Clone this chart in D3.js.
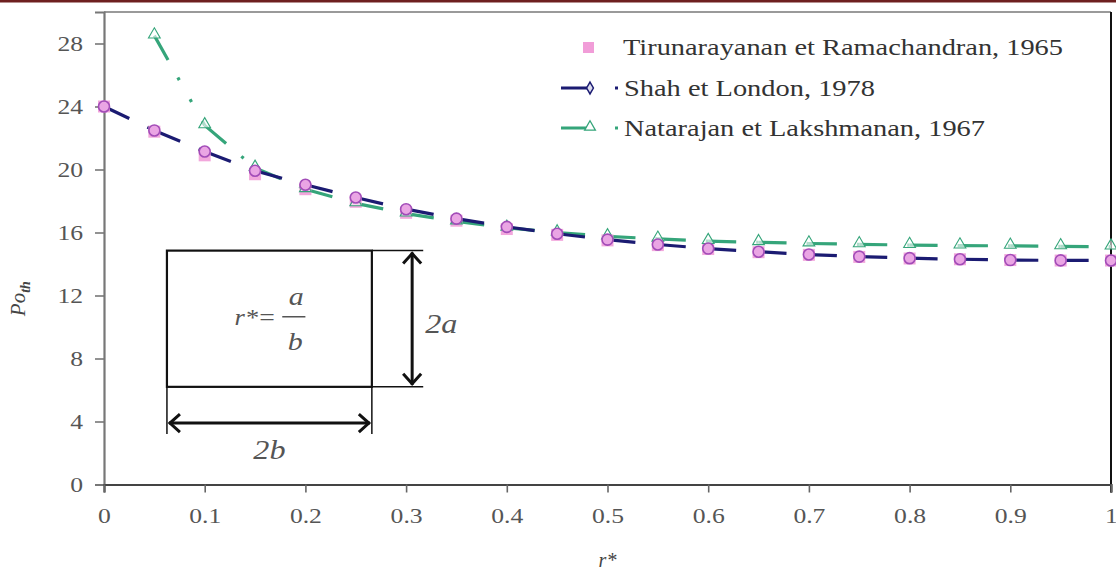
<!DOCTYPE html>
<html>
<head>
<meta charset="utf-8">
<script src="https://cdn.jsdelivr.net/npm/d3@7"></script>
<style>
  body { margin: 0; background: #fff; }
  svg text { font-family: "Liberation Serif", "Times New Roman", serif; }
</style>
</head>
<body>
<svg id="chart" width="1116" height="573"></svg>
<script>
// Aspect ratio r* = a/b of the rectangular duct
const rStar = [0, 0.05, 0.1, 0.15, 0.2, 0.25, 0.3, 0.35, 0.4, 0.45, 0.5,
               0.55, 0.6, 0.65, 0.7, 0.75, 0.8, 0.85, 0.9, 0.95, 1];
// Poiseuille number, Shah & London (1978)
const shahLondon = [24.0, 22.48, 21.14, 19.92, 19.03, 18.22, 17.48, 16.88, 16.36, 15.92, 15.55,
                    15.24, 14.98, 14.78, 14.6, 14.47, 14.37, 14.3, 14.25, 14.23, 14.22];
// Tirunarayanan & Ramachandran (1965)
const tirunarayanan = [24.0, 22.4, 20.9, 19.7, 18.75, 17.95, 17.25, 16.75, 16.22, 15.85, 15.5,
                       15.2, 14.95, 14.75, 14.58, 14.45, 14.35, 14.3, 14.25, 14.22, 14.22];
// Natarajan & Lakshmanan (1967), starts at r* = 0.05
const natarajanX = [0.05, 0.1, 0.15, 0.2, 0.25, 0.3, 0.35, 0.4, 0.45, 0.5,
                    0.55, 0.6, 0.65, 0.7, 0.75, 0.8, 0.85, 0.9, 0.95, 1];
const natarajan = [28.5, 22.8, 20.1, 18.75, 17.85, 17.2, 16.7, 16.3, 16.0, 15.75,
                   15.6, 15.45, 15.38, 15.3, 15.25, 15.2, 15.17, 15.15, 15.12, 15.1];

const yTicks = [0, 4, 8, 12, 16, 20, 24, 28];
const xTicks = [0, 0.1, 0.2, 0.3, 0.4, 0.5, 0.6, 0.7, 0.8, 0.9, 1];
const xTickLabels = ["0", "0.1", "0.2", "0.3", "0.4", "0.5", "0.6", "0.7", "0.8", "0.9", "1"];
const seriesNames = ["Tirunarayanan et Ramachandran, 1965", "Shah et London, 1978", "Natarajan et Lakshmanan, 1967"];

const svg = d3.select("#chart");
const plot = { left: 104, right: 1111, top: 12, bottom: 484.5 };

const x = d3.scaleLinear().domain([0, 1]).range([plot.left, plot.right]);
const y = d3.scaleLinear().domain([0, 30]).range([plot.bottom, plot.top]);

const navy = "#1b1b72";
const green = "#35a57a";
const pink = "#f19dd8";
const dash = "28,20,3,22,3,22";

// widen glyphs horizontally (the type is set a little expanded)
function widen(sel, k) {
  sel.each(function () {
    const w = this.getComputedTextLength();
    d3.select(this).attr("textLength", w * k).attr("lengthAdjust", "spacingAndGlyphs");
  });
}

// thin banner across the top edge
svg.append("rect").attr("x", 0).attr("y", 0).attr("width", 1116).attr("height", 2.5).attr("fill", "#6e2020");

// plot frame
svg.append("line").attr("x1", x(0)).attr("x2", x(1)).attr("y1", y(30)).attr("y2", y(30))
  .attr("stroke", "#9a9a9a").attr("stroke-width", 2);
svg.append("line").attr("x1", x(1)).attr("x2", x(1)).attr("y1", y(30)).attr("y2", y(0) + 8)
  .attr("stroke", "#111").attr("stroke-width", 2);

// axes
const yAxis = svg.append("g").attr("transform", `translate(${x(0)},0)`)
  .call(d3.axisLeft(y).tickValues(yTicks).tickSize(9).tickPadding(12).tickFormat(d3.format("d")));
const xAxis = svg.append("g").attr("transform", `translate(0,${y(0)})`)
  .call(d3.axisBottom(x).tickValues(xTicks).tickSize(8).tickPadding(16).tickFormat((d, i) => xTickLabels[i]));
[yAxis, xAxis].forEach(g => {
  g.selectAll("text").attr("font-size", 21).attr("fill", "#555")
    .style("font-family", '"Liberation Serif", serif');
  widen(g.selectAll("text"), 1.22);
});
yAxis.select(".domain").attr("stroke", "#777").attr("stroke-width", 2.2);
yAxis.selectAll(".tick line").attr("stroke", "#777").attr("stroke-width", 1.6);
xAxis.select(".domain").attr("stroke", "#444").attr("stroke-width", 2.2);
xAxis.selectAll(".tick line").attr("stroke", "#666").attr("stroke-width", 1.6);

// axis titles
svg.append("text").attr("x", x(0.5)).attr("y", 567).attr("text-anchor", "middle")
  .attr("font-size", 20).attr("font-style", "italic").attr("fill", "#444").text("r*");
const yTitle = svg.append("text").attr("transform", `translate(25,${y(11.8)}) rotate(-90)`)
  .attr("text-anchor", "middle").attr("font-size", 21).attr("font-style", "italic").attr("fill", "#444");
yTitle.append("tspan").text("Po");
yTitle.append("tspan").attr("font-size", 14).attr("dy", 5).attr("font-weight", "bold").text("th");

// duct cross-section sketch, placed in data units
const ink = "#111";
const inset = svg.append("g").attr("stroke", ink).attr("fill", "none");
const bx0 = x(0.0625), bx1 = x(0.266), by0 = y(14.85), by1 = y(6.2);
inset.append("rect").attr("x", bx0).attr("y", by0).attr("width", bx1 - bx0).attr("height", by1 - by0)
  .attr("stroke-width", 2.2);
inset.append("line").attr("x1", bx1).attr("x2", x(0.317)).attr("y1", by0).attr("y2", by0).attr("stroke-width", 1.5);
inset.append("line").attr("x1", bx1).attr("x2", x(0.317)).attr("y1", by1).attr("y2", by1).attr("stroke-width", 1.5);
inset.append("line").attr("x1", bx0).attr("x2", bx0).attr("y1", by1).attr("y2", y(3.2)).attr("stroke-width", 1.5);
inset.append("line").attr("x1", bx1).attr("x2", bx1).attr("y1", by1).attr("y2", y(3.2)).attr("stroke-width", 1.5);
// vertical dimension arrow (2a)
const ax = x(0.306);
inset.append("line").attr("x1", ax).attr("x2", ax).attr("y1", by0 + 2).attr("y2", by1 - 2).attr("stroke-width", 3);
inset.append("path").attr("d", `M${ax - 9},${by0 + 13} L${ax},${by0 + 3} L${ax + 9},${by0 + 13}`).attr("stroke-width", 3);
inset.append("path").attr("d", `M${ax - 9},${by1 - 13} L${ax},${by1 - 3} L${ax + 9},${by1 - 13}`).attr("stroke-width", 3);
// horizontal dimension arrow (2b)
const ay = y(3.9);
inset.append("line").attr("x1", bx0 + 2).attr("x2", bx1 - 2).attr("y1", ay).attr("y2", ay).attr("stroke-width", 3);
inset.append("path").attr("d", `M${bx0 + 13},${ay - 9} L${bx0 + 3},${ay} L${bx0 + 13},${ay + 9}`).attr("stroke-width", 3);
inset.append("path").attr("d", `M${bx1 - 13},${ay - 9} L${bx1 - 3},${ay} L${bx1 - 13},${ay + 9}`).attr("stroke-width", 3);

const note = svg.append("g").attr("fill", "#555").attr("font-style", "italic");
note.append("text").attr("x", x(0.319)).attr("y", y(10.2) + 9).attr("font-size", 28).text("2a");
note.append("text").attr("x", (bx0 + bx1) / 2).attr("y", y(2.2) + 9).attr("text-anchor", "middle").attr("font-size", 28).text("2b");
note.append("text").attr("x", x(0.153)).attr("y", y(10.6) + 7).attr("text-anchor", "end").attr("font-size", 23).text("r*");
note.append("text").attr("x", x(0.155) + 7).attr("y", y(10.6) + 7).attr("text-anchor", "middle").attr("font-size", 24).attr("font-style", "normal").text("=");
note.append("text").attr("x", x(0.191)).attr("y", y(11.8) + 6).attr("text-anchor", "middle").attr("font-size", 26).text("a");
note.append("line").attr("x1", x(0.177)).attr("x2", x(0.2)).attr("y1", y(10.65)).attr("y2", y(10.65)).attr("stroke", "#555").attr("stroke-width", 1.5);
note.append("text").attr("x", x(0.19)).attr("y", y(9.1) + 9).attr("text-anchor", "middle").attr("font-size", 26).text("b");
widen(note.selectAll("text"), 1.15);

// dashed series lines: the dash pattern restarts at every data point
function segments(xs, ys) {
  return d3.pairs(xs.map((d, i) => [x(d), y(ys[i])]));
}
const line = d3.line();
svg.append("g").selectAll("path").data(segments(natarajanX, natarajan)).join("path")
  .attr("d", line).attr("fill", "none").attr("stroke", green).attr("stroke-width", 3.2)
  .attr("stroke-dasharray", dash);
svg.append("g").selectAll("path").data(segments(rStar, shahLondon)).join("path")
  .attr("d", line).attr("fill", "none").attr("stroke", navy).attr("stroke-width", 3.2)
  .attr("stroke-dasharray", dash);

// markers
svg.append("g").selectAll("rect").data(rStar).join("rect")
  .attr("x", (d, i) => x(d) - 6).attr("y", (d, i) => y(tirunarayanan[i]) - 6)
  .attr("width", 12).attr("height", 12).attr("fill", pink).attr("opacity", 0.9);
const tri = d3.symbol().type(d3.symbolTriangle).size(60);
svg.append("g").selectAll("path").data(natarajanX).join("path")
  .attr("d", tri).attr("transform", (d, i) => `translate(${x(d)},${y(natarajan[i]) - 1})`)
  .attr("fill", "#fff").attr("fill-opacity", 0.6).attr("stroke", green).attr("stroke-width", 1.1);
svg.append("g").selectAll("circle").data(rStar).join("circle")
  .attr("cx", d => x(d)).attr("cy", (d, i) => y(shahLondon[i])).attr("r", 5.5)
  .attr("fill", "#eaa5e4").attr("stroke", "#a24cb8").attr("stroke-width", 1.6);

// legend
const legend = svg.append("g").attr("font-size", 23).attr("fill", "#333");
const legendY = [47, 88, 128];
legend.append("rect").attr("x", 583).attr("y", legendY[0] - 5).attr("width", 11).attr("height", 11).attr("fill", pink);
[[navy, 1], [green, 2]].forEach(([c, k]) => {
  legend.append("line").attr("x1", 561).attr("x2", 620).attr("y1", legendY[k]).attr("y2", legendY[k])
    .attr("stroke", c).attr("stroke-width", 3.2).attr("stroke-dasharray", "30,24,3,30");
});
legend.append("path").attr("d", d3.symbol().type(d3.symbolDiamond).size(40))
  .attr("transform", `translate(590,${legendY[1]})`).attr("fill", "#dde").attr("stroke", navy).attr("stroke-width", 1.5);
legend.append("path").attr("d", d3.symbol().type(d3.symbolTriangle).size(50))
  .attr("transform", `translate(590,${legendY[2] - 1})`).attr("fill", "#fff").attr("stroke", green).attr("stroke-width", 1.3);
const legendWidths = [440, 251, 361];
seriesNames.forEach((name, i) => {
  legend.append("text").attr("x", i === 0 ? 623 : 624).attr("y", legendY[i] + 8)
    .attr("textLength", legendWidths[i]).attr("lengthAdjust", "spacingAndGlyphs").text(name);
});
</script>
</body>
</html>
